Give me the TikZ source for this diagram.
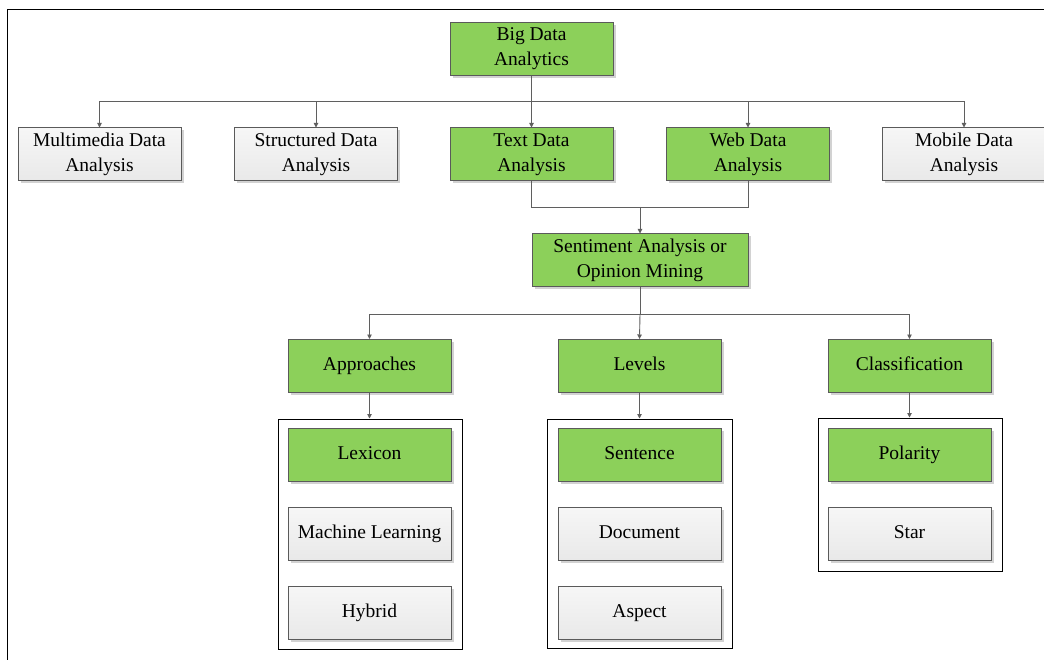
\documentclass[tikz,border=0pt]{standalone}
\usepackage{fontspec}
\setmainfont{Liberation Serif}
\usetikzlibrary{arrows.meta,shadows}
\definecolor{boxgreen}{RGB}{140,208,90}
\definecolor{boxgray}{RGB}{240,240,240}
\definecolor{edgegray}{RGB}{90,90,90}
\definecolor{linegray}{RGB}{95,95,95}
\definecolor{shadowgray}{RGB}{210,210,210}
\tikzset{
  basebox/.style={draw=edgegray, line width=1pt, minimum width=163pt, minimum height=53pt,
    inner sep=0pt, align=center, font=\fontsize{19.5}{25}\selectfont,
    drop shadow={shadow xshift=2.5pt, shadow yshift=-2.5pt, fill=shadowgray, opacity=1}},
  gbox/.style={basebox, fill=boxgreen},
  wbox/.style={basebox, top color=boxgray!60!white, bottom color=boxgray!97!black},
  one/.style={text height=13.5pt, text depth=4.5pt},
  cont/.style={draw=black, line width=1pt},
  conn/.style={draw=linegray, line width=0.9pt},
  arr/.style={conn, -{Triangle[width=4.5pt,length=4.5pt]}}
}
\begin{document}
\begin{tikzpicture}[x=1pt,y=-1pt]
\useasboundingbox (0,0) rectangle (1044,660);
\fill[white] (0,0) rectangle (1044,660);
\draw[line width=1pt] (7,662) -- (7,10) -- (1046,10);
% top level
\node[gbox] (big) at (531.5,49) {Big Data\\Analytics};
\node[wbox] (mm) at (99.5,154.5) {Multimedia Data\\Analysis};
\node[wbox] (st) at (316,154.5) {Structured Data\\Analysis};
\node[gbox] (tx) at (531.5,154.5) {Text Data\\Analysis};
\node[gbox] (wb) at (748,154.5) {Web Data\\Analysis};
\node[wbox] (mb) at (964,154.5) {Mobile Data\\Analysis};
\node[gbox, minimum width=216pt] (sa) at (640,260.5) {Sentiment Analysis or\\Opinion Mining};
\node[gbox, one] (ap) at (369.5,366) {Approaches};
\node[gbox, one] (lv) at (639.5,366) {Levels};
\node[gbox, one] (cl) at (909.5,366) {Classification};
% containers
\node[cont, minimum width=184pt, minimum height=230pt, inner sep=0pt] (apbox) at (370,534) {};
\node[cont, minimum width=185pt, minimum height=229pt, inner sep=0pt] (lvbox) at (639.5,533.5) {};
\node[cont, minimum width=184pt, minimum height=153pt, inner sep=0pt] (clbox) at (910,494.5) {};
% inner boxes
\node[gbox, one] (lex) at (369.5,454.5) {Lexicon};
\node[wbox, one] (ml) at (369.5,533.5) {Machine Learning};
\node[wbox, one] (hy) at (369.5,612.5) {Hybrid};
\node[gbox, one] (sen) at (639.5,454.5) {Sentence};
\node[wbox, one] (doc) at (639.5,533.5) {Document};
\node[wbox, one] (asp) at (639.5,612.5) {Aspect};
\node[gbox, one] (pol) at (909.5,454.5) {Polarity};
\node[wbox, one] (star) at (909.5,533.5) {Star};
% connectors
\coordinate (b1) at (531.5,101);
\draw[conn] (big.south) -- (b1);
\draw[arr] (b1) -| (mm.north);
\draw[arr] (b1) -| (st.north);
\draw[arr] (b1) -- (tx.north);
\draw[arr] (b1) -| (wb.north);
\draw[arr] (b1) -| (mb.north);
\coordinate (m1) at (640,207);
\draw[conn] (tx.south) |- (m1);
\draw[conn] (wb.south) |- (m1);
\draw[arr] (m1) -- (sa.north);
\coordinate (b2) at (640,314);
\draw[conn] (sa.south) -- (b2);
\draw[arr] (b2) -| (ap.north);
\draw[arr] (b2) -- (lv.north);
\draw[arr] (b2) -| (cl.north);
\draw[arr] (ap.south) -- (ap.south |- apbox.north);
\draw[arr] (lv.south) -- (lv.south |- lvbox.north);
\draw[arr] (cl.south) -- (cl.south |- clbox.north);
\end{tikzpicture}
\end{document}
